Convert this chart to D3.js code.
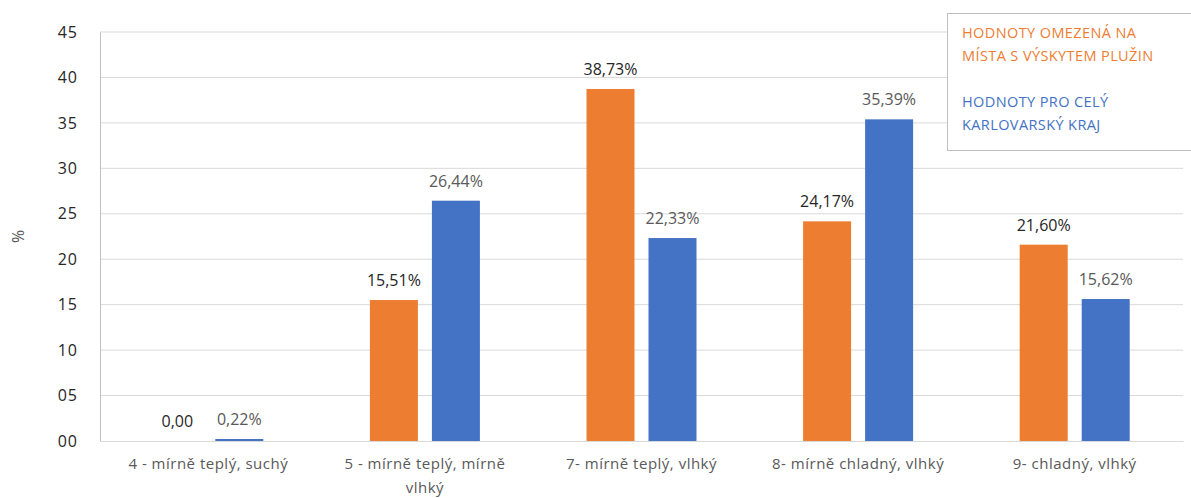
<!DOCTYPE html>
<html>
<head>
<meta charset="utf-8">
<script src="https://cdn.jsdelivr.net/npm/d3@7"></script>
<style>
  body { margin: 0; background: #fff; }
  svg { display: block; }
  svg text { font-family: "Open Sans", "Noto Sans", sans-serif; }
</style>
</head>
<body>
<script>
// data
var categories = ["4 - mírně teplý, suchý", "5 - mírně teplý, mírně vlhký", "7- mírně teplý, vlhký", "8- mírně chladný, vlhký", "9- chladný, vlhký"];
var seriesNames = ["HODNOTY OMEZENÁ NA MÍSTA S VÝSKYTEM PLUŽIN", "HODNOTY PRO CELÝ KARLOVARSKÝ KRAJ"];
var orangeValues = [0.00, 15.51, 38.73, 24.17, 21.60];
var blueValues = [0.22, 26.44, 22.33, 35.39, 15.62];
var yTicks = [0, 5, 10, 15, 20, 25, 30, 35, 40, 45];
var legendLines = [["HODNOTY OMEZENÁ NA", "MÍSTA S VÝSKYTEM PLUŽIN"], ["HODNOTY PRO CELÝ", "KARLOVARSKÝ KRAJ"]];

var colors = ["#ED7D31", "#4472C4"];
var labelColors = ["#262626", "#595959"];

var W = 1191, H = 498;
var margin = {left: 100, right: 8, top: 32, bottom: 57};

var svg = d3.select("body").append("svg")
    .attr("width", W)
    .attr("height", H);

var y = d3.scaleLinear().domain([0, 45]).range([H - margin.bottom, margin.top]);
var x0 = d3.scaleBand().domain(categories).range([margin.left, W - margin.right]);
var groupW = 110;
var x1 = d3.scaleBand().domain([0, 1]).range([0, groupW]).paddingInner(0.226);

// gridlines
svg.append("g")
    .selectAll("line")
    .data(yTicks.slice(1))
    .enter().append("line")
    .attr("x1", margin.left)
    .attr("x2", W - margin.right)
    .attr("y1", function (d) { return y(d); })
    .attr("y2", function (d) { return y(d); })
    .attr("stroke", "#d9d9d9")
    .attr("stroke-width", 1);

// y axis
var yAxis = d3.axisLeft(y).tickValues(yTicks).tickSize(0).tickPadding(22)
    .tickFormat(d3.format("02d"));
var gy = svg.append("g").attr("transform", "translate(" + margin.left + ",0)").call(yAxis);
gy.select(".domain").attr("stroke", "#bfbfbf");
gy.selectAll("text").attr("font-size", 16).attr("fill", "#262626").attr("letter-spacing", 1);

// x axis
var xAxis = d3.axisBottom(x0).tickSize(0).tickPadding(17);
var gx = svg.append("g").attr("transform", "translate(0," + y(0) + ")").call(xAxis);
gx.select(".domain").attr("stroke", "#d9d9d9");
gx.selectAll("text").attr("font-size", 15).attr("letter-spacing", 0.5)
    .attr("fill", "#595959").call(wrap, 188);

function wrap(texts, width) {
    texts.each(function () {
        var text = d3.select(this);
        var words = text.text().split(/\s+/);
        var line = [];
        var lineNo = 0;
        var yAttr = text.attr("y");
        var dy = parseFloat(text.attr("dy"));
        var tspan = text.text(null).append("tspan").attr("x", 0).attr("y", yAttr).attr("dy", dy + "em");
        words.forEach(function (w) {
            line.push(w);
            tspan.text(line.join(" "));
            if (tspan.node().getComputedTextLength() > width && line.length > 1) {
                line.pop();
                tspan.text(line.join(" "));
                line = [w];
                lineNo++;
                tspan = text.append("tspan").attr("x", 0).attr("y", yAttr)
                    .attr("dy", (lineNo * 1.6 + dy) + "em").text(w);
            }
        });
    });
}

// y title
svg.append("text")
    .attr("transform", "translate(24," + (y(22.5)) + ") rotate(-90)")
    .attr("text-anchor", "middle")
    .attr("font-size", 16)
    .attr("fill", "#595959")
    .text("%");

// bars
var fmt = function (v) { return d3.format(".2f")(v).replace(".", ","); };
var series = [orangeValues, blueValues];

series.forEach(function (vals, s) {
    var g = svg.append("g");
    var off = function (i) {
        return x0(categories[i]) + (x0.bandwidth() - groupW) / 2 + x1(s);
    };
    g.selectAll("rect")
        .data(vals)
        .enter().append("rect")
        .attr("x", function (d, i) { return off(i); })
        .attr("y", function (d) { return y(d); })
        .attr("width", x1.bandwidth())
        .attr("height", function (d) { return y(0) - y(d); })
        .attr("fill", colors[s]);

    g.selectAll("text")
        .data(vals)
        .enter().append("text")
        .attr("x", function (d, i) { return off(i) + x1.bandwidth() / 2; })
        .attr("y", function (d) { return y(d) - 14; })
        .attr("text-anchor", "middle")
        .attr("font-size", 16)
        .attr("fill", labelColors[s])
        .text(function (d) { return d === 0 ? fmt(d) : fmt(d) + "%"; });
});

// legend box
var leg = svg.append("g").attr("transform", "translate(947,13)");
leg.append("rect")
    .attr("x", 0.5).attr("y", 0.5)
    .attr("width", 260).attr("height", 137)
    .attr("fill", "#fff")
    .attr("stroke", "#bfbfbf");

legendLines.forEach(function (lines, s) {
    lines.forEach(function (t, j) {
        leg.append("text")
            .attr("x", 15)
            .attr("y", 25 + s * 69 + j * 23)
            .attr("font-size", 14.5)
            .attr("letter-spacing", 0.4)
            .attr("fill", colors[s])
            .text(t);
    });
});
</script>
</body>
</html>
